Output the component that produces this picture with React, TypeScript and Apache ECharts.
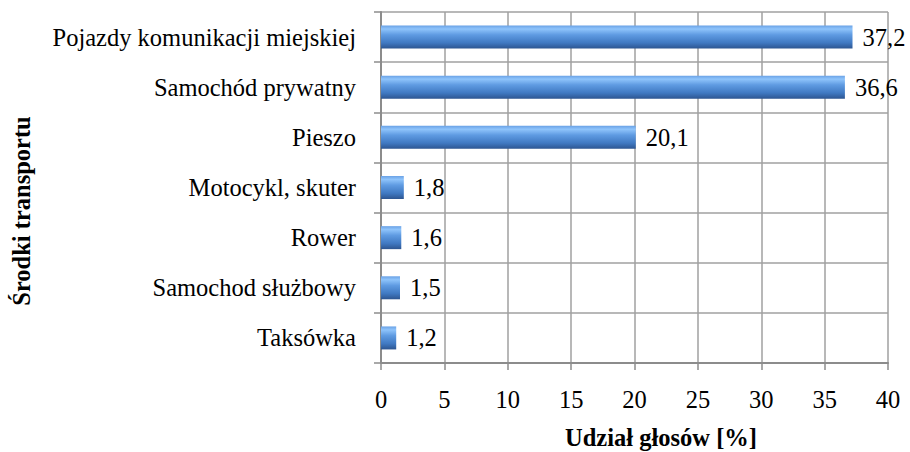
import React, { useEffect, useRef } from "react";
import * as echarts from "echarts";

const categories = [
  "Pojazdy komunikacji miejskiej",
  "Samochód prywatny",
  "Pieszo",
  "Motocykl, skuter",
  "Rower",
  "Samochod służbowy",
  "Taksówka",
];
const values = [37.2, 36.6, 20.1, 1.8, 1.6, 1.5, 1.2];
const xAxisTitle = "Udział głosów [%]";
const yAxisTitle = "Środki transportu";

const FONT = "Liberation Serif";
const FS = 24.5;

export default function App() {
  const ref = useRef<HTMLDivElement>(null);
  useEffect(() => {
    if (!ref.current) return;
    const chart = echarts.init(ref.current, null, { renderer: "svg" });
    chart.setOption({
      animation: false,
      backgroundColor: "#ffffff",
      textStyle: { fontFamily: FONT, color: "#000" },
      grid: { left: 381, right: 22, top: 12, bottom: 89, containLabel: false },
      xAxis: {
        type: "value",
        min: 0,
        max: 40,
        interval: 5,
        axisLine: { show: true, lineStyle: { color: "#8c8c8c", width: 2 } },
        axisTick: { show: true, length: 7, lineStyle: { color: "#8c8c8c", width: 1.5 } },
        axisLabel: { margin: 24, fontSize: FS, color: "#000", fontFamily: FONT },
        splitLine: { show: true, lineStyle: { color: "#a0a0a0", width: 1.5 } },
      },
      yAxis: {
        type: "category",
        data: categories,
        inverse: true,
        axisLine: { show: true, lineStyle: { color: "#8c8c8c", width: 2 } },
        axisTick: { show: true, length: 7, alignWithLabel: false, lineStyle: { color: "#8c8c8c", width: 1.5 } },
        axisLabel: { margin: 25, fontSize: FS, color: "#000", fontFamily: FONT },
        splitLine: { show: true, lineStyle: { color: "#a0a0a0", width: 1.5 } },
      },
      series: [
        {
          type: "bar",
          data: values,
          barWidth: 23,
          itemStyle: {
            color: new echarts.graphic.LinearGradient(0, 0, 0, 1, [
              { offset: 0, color: "#6aa2e6" },
              { offset: 0.15, color: "#8fc4fb" },
              { offset: 0.4, color: "#5f9be2" },
              { offset: 0.75, color: "#4079c2" },
              { offset: 1, color: "#2d5590" },
            ]),
          },
          label: {
            show: true,
            position: "right",
            distance: 10,
            fontSize: FS,
            color: "#000",
            fontFamily: FONT,
            formatter: (p: any) => String(p.value).replace(".", ","),
          },
        },
      ],
      graphic: [
        {
          type: "text",
          x: 661,
          y: 437,
          style: {
            text: xAxisTitle,
            fontFamily: FONT,
            fontWeight: "bold",
            fontSize: FS,
            fill: "#000",
            textAlign: "center",
            textVerticalAlign: "middle",
          },
        },
        {
          type: "text",
          x: 21,
          y: 211,
          rotation: Math.PI / 2,
          style: {
            text: yAxisTitle,
            fontFamily: FONT,
            fontWeight: "bold",
            fontSize: FS,
            fill: "#000",
            textAlign: "center",
            textVerticalAlign: "middle",
          },
        },
      ],
    });
    return () => chart.dispose();
  }, []);
  return (
    <div
      ref={ref}
      style={{ position: "fixed", left: 0, top: 0, width: 910, height: 452 }}
    />
  );
}
